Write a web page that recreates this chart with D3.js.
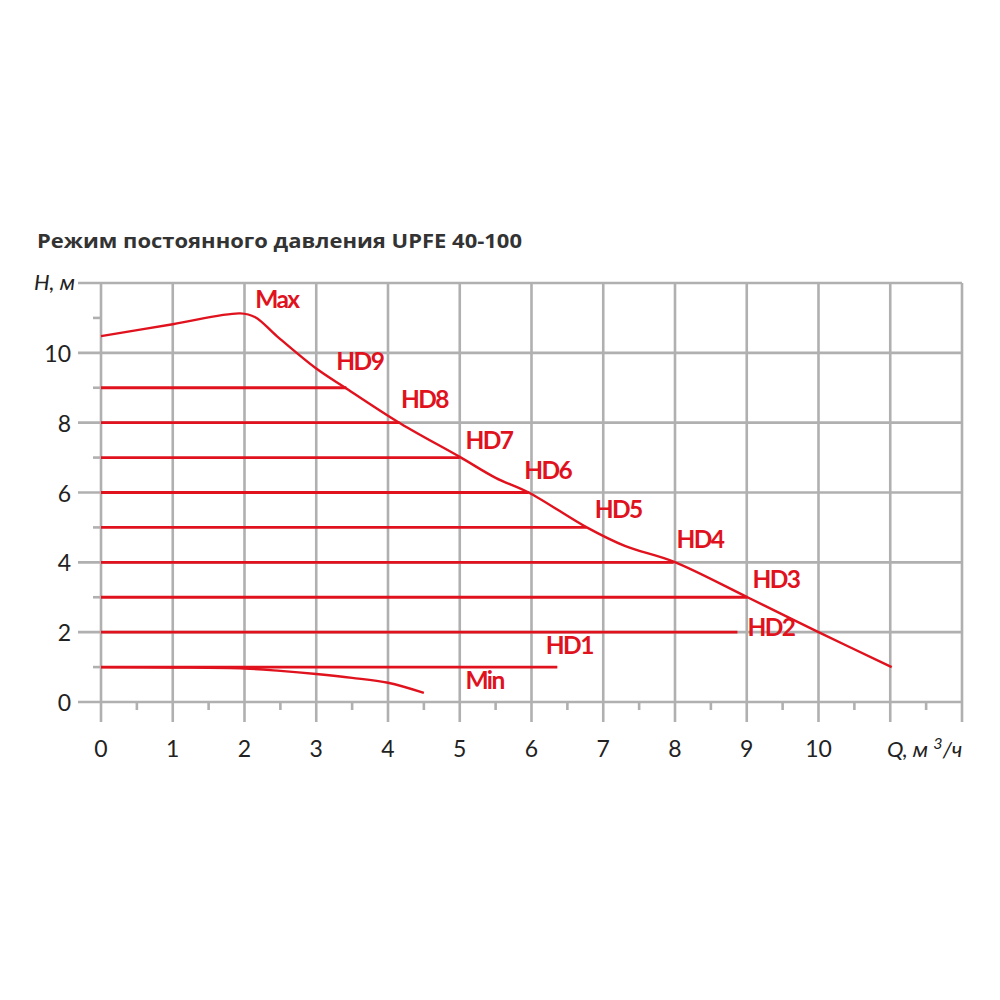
<!DOCTYPE html>
<html>
<head>
<meta charset="utf-8">
<script src="https://cdn.jsdelivr.net/npm/d3@7"></script>
<style>
  html, body { margin: 0; padding: 0; background: #fff; }
  svg { display: block; }
</style>
</head>
<body>
<div id="chart"></div>
<script>
// Max curve (Q in m3/h, H in m)
const maxQ = [0, 1, 1.94, 2.15, 2.45, 3.0, 3.42, 4.18, 5.0, 5.5, 5.96, 6.77, 7.3, 7.98, 9.01, 10, 11.02];
const maxH = [10.48, 10.82, 11.13, 11.02, 10.48, 9.55, 8.98, 7.97, 7.02, 6.42, 6.0, 5.0, 4.47, 4.02, 3.0, 2.0, 1.0];

// Min curve
const minQ = [0, 1, 2, 2.5, 3, 3.5, 4, 4.5];
const minH = [1.0, 0.99, 0.96, 0.89, 0.8, 0.69, 0.55, 0.26];

// constant pressure modes HD1..HD9: level and where the line stops
const hdNames = ["HD1", "HD2", "HD3", "HD4", "HD5", "HD6", "HD7", "HD8", "HD9"];
const hdLevel = [1, 2, 3, 4, 5, 6, 7, 8, 9];
const hdEndQ = [6.36, 8.87, 9.01, 7.98, 6.77, 5.96, 5.0, 4.16, 3.42];

// label anchor points (data units) for the curve names
const labelNames = ["Max", "HD9", "HD8", "HD7", "HD6", "HD5", "HD4", "HD3", "HD2", "HD1", "Min"];
const labelQ = [2.15, 3.28, 4.18, 5.08, 5.9, 6.88, 8.02, 9.08, 9.01, 6.2, 5.08];
const labelH = [11.27, 9.5, 8.43, 7.26, 6.4, 5.26, 4.4, 3.26, 1.9, 1.38, 0.38];

const xTicks = [0, 1, 2, 3, 4, 5, 6, 7, 8, 9, 10];
const yTicks = [0, 2, 4, 6, 8, 10];

const width = 1000, height = 1000;
const red = "#e0121d", grid = "#b0b0b0";

const svg = d3.select("#chart").append("svg")
    .attr("width", width)
    .attr("height", height);

const x = d3.scaleLinear().domain([0, 12]).range([101, 962]);
const y = d3.scaleLinear().domain([0, 12]).range([702, 283]);

// grid
const g = svg.append("g").attr("stroke", grid).attr("stroke-width", 2.6).attr("fill", "none");

g.selectAll(".vgrid").data(d3.range(0, 13))
    .join("line")
    .attr("x1", d => x(d)).attr("x2", d => x(d))
    .attr("y1", y(12)).attr("y2", y(0) + 20);

g.selectAll(".xminor").data(d3.range(0.5, 12, 1))
    .join("line")
    .attr("x1", d => x(d)).attr("x2", d => x(d))
    .attr("y1", y(0)).attr("y2", y(0) + 8);

g.selectAll(".hgrid").data(d3.range(0, 13, 2))
    .join("line")
    .attr("x1", x(0) - 23).attr("x2", x(12))
    .attr("y1", d => y(d)).attr("y2", d => y(d));

g.selectAll(".yminor").data(d3.range(1, 12, 2))
    .join("line")
    .attr("x1", x(0) - 8).attr("x2", x(0))
    .attr("y1", d => y(d)).attr("y2", d => y(d));

// tick labels
svg.append("g").selectAll("text").data(xTicks)
    .join("text")
    .attr("x", d => x(d))
    .attr("y", y(0) + 55)
    .attr("text-anchor", "middle")
    .attr("font-family", "Lato, 'Open Sans', sans-serif")
    .attr("font-size", 23)
    .attr("fill", "#222")
    .text(d => d);

svg.append("g").selectAll("text").data(yTicks)
    .join("text")
    .attr("x", 71)
    .attr("y", d => y(d) + 9)
    .attr("text-anchor", "end")
    .attr("font-family", "Lato, 'Open Sans', sans-serif")
    .attr("font-size", 23)
    .attr("fill", "#222")
    .text(d => d);

// axis titles
svg.append("text")
    .attr("x", 75).attr("y", y(12) + 7)
    .attr("text-anchor", "end")
    .attr("font-family", "Lato, 'Open Sans', sans-serif")
    .attr("font-style", "italic")
    .attr("font-size", 22)
    .attr("fill", "#222")
    .text("H, м");

const qLabel = svg.append("text")
    .attr("x", 887).attr("y", y(0) + 55)
    .attr("font-family", "Lato, 'Open Sans', sans-serif")
    .attr("font-style", "italic")
    .attr("font-size", 22)
    .attr("fill", "#222");
qLabel.append("tspan").text("Q, м ");
qLabel.append("tspan").attr("dy", -8).attr("font-size", 16).text("3");
qLabel.append("tspan").attr("dy", 8).text("/ч");

// title
svg.append("text")
    .attr("x", 37).attr("y", 248)
    .attr("font-family", "'Open Sans', 'Noto Sans', sans-serif")
    .attr("font-weight", "bold")
    .attr("font-size", 20)
    .attr("fill", "#333")
    .attr("textLength", 485)
    .attr("lengthAdjust", "spacingAndGlyphs")
    .text("Режим постоянного давления UPFE 40-100");

// curves
const line = d3.line()
    .x(d => x(d[0]))
    .y(d => y(d[1]))
    .curve(d3.curveCatmullRom.alpha(0.5));

const curves = svg.append("g")
    .attr("fill", "none")
    .attr("stroke", red)
    .attr("stroke-width", 2.4);

curves.selectAll(".hd").data(hdLevel)
    .join("line")
    .attr("x1", x(0))
    .attr("x2", (d, i) => x(hdEndQ[i]))
    .attr("y1", d => y(d)).attr("y2", d => y(d))
    .attr("stroke-width", 2.8);

curves.append("path").attr("d", line(d3.zip(maxQ, maxH)));
curves.append("path").attr("d", line(d3.zip(minQ, minH)));

// curve names
svg.append("g").selectAll("text").data(labelNames)
    .join("text")
    .attr("x", (d, i) => x(labelQ[i]))
    .attr("y", (d, i) => y(labelH[i]))
    .attr("font-family", "Lato, 'Open Sans', sans-serif")
    .attr("font-weight", "bold")
    .attr("font-size", 24.5)
    .attr("letter-spacing", -1.6)
    .attr("fill", red)
    .text(d => d);
</script>
</body>
</html>
